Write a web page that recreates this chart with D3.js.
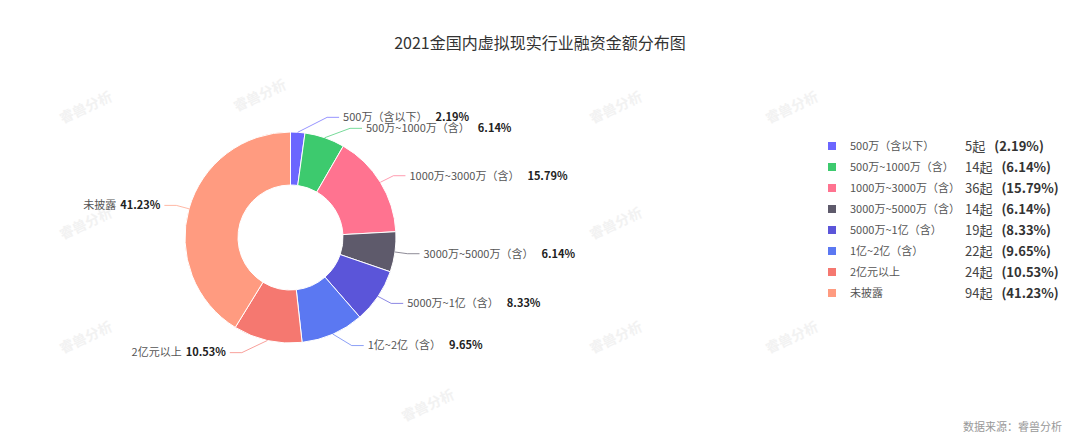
<!DOCTYPE html>
<html lang="zh">
<head>
<meta charset="UTF-8">
<title>2021金国内虚拟现实行业融资金额分布图</title>
<script src="https://d3js.org/d3.v7.min.js"></script>
<style>
  body { margin: 0; background: #fff; font-family: "Noto Sans CJK SC", "Noto Sans", sans-serif; }
  svg { display: block; }
</style>
</head>
<body>
<svg width="1080" height="440"></svg>
<script>
// data
const categories = ["500万（含以下）", "500万~1000万（含）", "1000万~3000万（含）", "3000万~5000万（含）",
                    "5000万~1亿（含）", "1亿~2亿（含）", "2亿元以上", "未披露"];
const counts = [5, 14, 36, 14, 19, 22, 24, 94];
const percents = ["2.19%", "6.14%", "15.79%", "6.14%", "8.33%", "9.65%", "10.53%", "41.23%"];
const colors = ["#6B66FF", "#3DCA6E", "#FF7390", "#5E5A6B", "#5B55D9", "#5B78F2", "#F57870", "#FF9B80"];

const svg = d3.select("svg");

// faint watermark, kept clear of the chart labels
const wm = svg.append("g").attr("fill", "#f2f2f2").attr("font-size", 14).attr("font-weight", "bold");
const wmSpots = [[88, 112], [262, 100], [618, 112], [794, 112], [88, 228], [618, 228], [88, 342], [618, 342], [794, 342], [430, 410]];
wmSpots.forEach(p => {
  wm.append("text")
    .attr("transform", "translate(" + p[0] + "," + p[1] + ")rotate(-25)")
    .attr("text-anchor", "middle")
    .text("睿兽分析");
});

// title
svg.append("text")
  .attr("x", 540).attr("y", 49)
  .attr("text-anchor", "middle")
  .attr("font-size", 16)
  .attr("fill", "#333")
  .text("2021金国内虚拟现实行业融资金额分布图");

// pie
const cx = 290.5, cy = 237.5, outerR = 105.5, innerR = 52.5;
const data = categories.map((c, i) => ({name: c, value: counts[i], pct: percents[i], color: colors[i]}));
const pie = d3.pie().value(d => d.value).sort(null);
const arcs = pie(data);
const arc = d3.arc().innerRadius(innerR).outerRadius(outerR);

const g = svg.append("g").attr("transform", "translate(" + cx + "," + cy + ")");
g.selectAll("path.slice")
  .data(arcs)
  .enter().append("path")
  .attr("class", "slice")
  .attr("d", arc)
  .attr("fill", d => d.data.color)
  .attr("stroke", "#fff")
  .attr("stroke-width", 1);

// label layout (push apart overlapping labels, then place on an ellipse)
const rA = 118, rB = 126.4, L2 = 12, minGap = 11;
const labels = arcs.map(d => {
  const a = (d.startAngle + d.endAngle) / 2;
  return {d: d, a: a, side: Math.sin(a) >= 0 ? 1 : -1,
          x0: outerR * Math.sin(a), y0: -outerR * Math.cos(a), y: -rA * Math.cos(a)};
});
[1, -1].forEach(side => {
  const list = labels.filter(l => l.side === side).sort((p, q) => p.y - q.y);
  for (let k = 0; k < 20; k++) {
    let moved = false;
    for (let i = 1; i < list.length; i++) {
      const gap = list[i].y - list[i - 1].y;
      if (gap < minGap) {
        const s = (minGap - gap) / 2;
        list[i - 1].y -= s; list[i].y += s; moved = true;
      }
    }
    if (!moved) break;
  }
});
labels.forEach(l => {
  const f = Math.max(0, 1 - (l.y * l.y) / (rB * rB));
  l.x = l.side * rA * Math.sqrt(f);
});

g.selectAll("polyline.lbl")
  .data(labels)
  .enter().append("polyline")
  .attr("points", l => [[l.x0, l.y0], [l.x, l.y], [l.x + l.side * L2, l.y]].map(p => p.join(",")).join(" "))
  .attr("fill", "none")
  .attr("stroke", l => l.d.data.color)
  .attr("stroke-opacity", 0.7)
  .attr("stroke-width", 1);

const lt = g.selectAll("text.lbl")
  .data(labels)
  .enter().append("text")
  .attr("x", l => l.x + l.side * (L2 + 4))
  .attr("y", l => l.y)
  .attr("dy", "0.35em")
  .attr("text-anchor", l => l.side > 0 ? "start" : "end")
  .attr("font-size", 11);
lt.append("tspan").attr("fill", "#555").text(l => l.d.data.name);
lt.append("tspan").attr("dx", l => l.side > 0 ? 8 : 4)
  .attr("fill", "#222").attr("font-weight", "bold").text(l => l.d.data.pct);

// legend
const rows = svg.append("g").selectAll("g.row")
  .data(data)
  .enter().append("g")
  .attr("transform", (d, i) => "translate(828," + (146 + i * 21) + ")");
rows.append("rect")
  .attr("x", 0).attr("y", -4).attr("width", 8).attr("height", 8)
  .attr("fill", d => d.color);
rows.append("text")
  .attr("x", 22).attr("dy", "0.35em")
  .attr("font-size", 11).attr("fill", "#555")
  .text(d => d.name);
const cnt = rows.append("text")
  .attr("x", 137).attr("dy", "0.35em")
  .attr("font-size", 13);
cnt.append("tspan").attr("fill", "#444").text(d => d.value + "起");
cnt.append("tspan").attr("dx", 9).attr("fill", "#333").attr("font-weight", "bold").text(d => "(" + d.pct + ")");

// footer
svg.append("text")
  .attr("x", 1062).attr("y", 431)
  .attr("text-anchor", "end")
  .attr("font-size", 11)
  .attr("fill", "#999")
  .text("数据来源：睿兽分析");
</script>
</body>
</html>
